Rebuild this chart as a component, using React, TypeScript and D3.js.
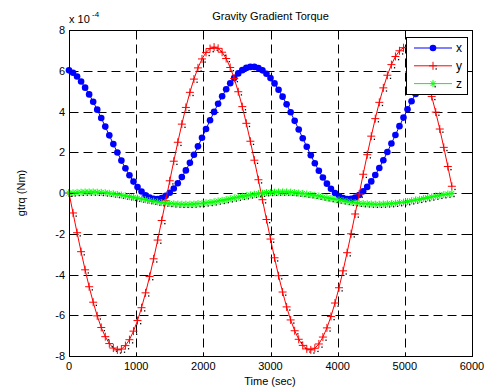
import React from "react";
import * as d3 from "d3";

const time = d3.range(0, 5760, 60);
const xSeries = [
  6.02, 5.9, 5.72, 5.47, 5.17, 4.84, 4.48, 4.09, 3.68, 3.26,
  2.83, 2.4, 1.99, 1.59, 1.21, 0.87, 0.56, 0.29, 0.07, -0.11,
  -0.22, -0.29, -0.3, -0.25, -0.14, 0.01, 0.22, 0.48, 0.78, 1.11,
  1.48, 1.88, 2.29, 2.71, 3.14, 3.57, 3.98, 4.38, 4.75, 5.09,
  5.39, 5.65, 5.87, 6.03, 6.14, 6.19, 6.19, 6.13, 6.02, 5.85,
  5.64, 5.38, 5.07, 4.73, 4.35, 3.96, 3.54, 3.12, 2.69, 2.27,
  1.85, 1.46, 1.09, 0.76, 0.46, 0.21, 0.0, -0.15, -0.25, -0.3,
  -0.29, -0.22, -0.1, 0.08, 0.3, 0.57, 0.88, 1.23, 1.61, 2.01,
  2.43, 2.85, 3.28, 3.7, 4.11, 4.5, 4.86, 5.19, 5.48, 5.73,
  5.93, 6.07, 6.16, 6.2, 6.18, 6.1,
];
const ySeries = [
  0.0, -0.98, -1.95, -2.88, -3.77, -4.6, -5.36, -6.03, -6.6, -7.05,
  -7.39, -7.61, -7.7, -7.66, -7.49, -7.2, -6.78, -6.26, -5.63, -4.9,
  -4.1, -3.23, -2.31, -1.35, -0.38, 0.6, 1.56, 2.49, 3.38, 4.2,
  4.94, 5.59, 6.14, 6.58, 6.9, 7.09, 7.16, 7.1, 6.91, 6.6,
  6.16, 5.62, 4.97, 4.24, 3.42, 2.54, 1.61, 0.65, -0.33, -1.3,
  -2.26, -3.18, -4.06, -4.86, -5.59, -6.23, -6.76, -7.18, -7.48, -7.65,
  -7.7, -7.62, -7.41, -7.07, -6.62, -6.06, -5.4, -4.65, -3.82, -2.93,
  -2.0, -1.03, -0.05, 0.92, 1.88, 2.79, 3.65, 4.45, 5.16, 5.78,
  6.3, 6.7, 6.98, 7.13, 7.15, 7.05, 6.82, 6.47, 6.0, 5.42,
  4.74, 3.97, 3.14, 2.24, 1.3, 0.33,
];
const zSeries = [
  -0.01, 0.01, 0.03, 0.04, 0.05, 0.05, 0.05, 0.04, 0.03, 0.01,
  -0.01, -0.04, -0.07, -0.1, -0.14, -0.18, -0.21, -0.25, -0.29, -0.33,
  -0.37, -0.4, -0.44, -0.47, -0.49, -0.51, -0.53, -0.54, -0.55, -0.55,
  -0.55, -0.54, -0.52, -0.51, -0.48, -0.46, -0.43, -0.39, -0.36, -0.32,
  -0.28, -0.24, -0.2, -0.16, -0.13, -0.09, -0.06, -0.03, -0.01, 0.02,
  0.03, 0.04, 0.05, 0.05, 0.05, 0.04, 0.02, 0.0, -0.02, -0.05,
  -0.08, -0.11, -0.15, -0.19, -0.23, -0.27, -0.31, -0.34, -0.38, -0.41,
  -0.45, -0.47, -0.5, -0.52, -0.53, -0.54, -0.55, -0.55, -0.54, -0.53,
  -0.52, -0.5, -0.47, -0.45, -0.42, -0.38, -0.34, -0.31, -0.27, -0.23,
  -0.19, -0.15, -0.11, -0.08, -0.05, -0.02,
];
const xTicks = [0, 1000, 2000, 3000, 4000, 5000, 6000];
const yTicks = [-8, -6, -4, -2, 0, 2, 4, 6, 8];
const seriesNames = ["x", "y", "z"];

const W = 486;
const H = 389;
const FONT = "'Liberation Sans', Arial, Helvetica, sans-serif";

const xs = d3.scaleLinear().domain([0, 6000]).range([69, 472]);
const ys = d3.scaleLinear().domain([-8, 8]).range([356, 30]);
const crisp = (v: number) => Math.round(v) + 0.5;

function Marker({ kind, cx, cy }: { kind: string; cx: number; cy: number }) {
  if (kind === "x") return <circle cx={cx} cy={cy} r={3.3} fill="#0000ff" />;
  if (kind === "y")
    return (
      <g>
        <rect x={cx + 2.5} y={cy + 2.5} width={1.3} height={1.3} fill="#000" />
        <path d={`M${cx - 4},${cy}H${cx + 4}M${cx},${cy - 4}V${cy + 4}`} stroke="#ff0000" strokeWidth={1} />
      </g>
    );
  return (
    <g>
      <rect x={cx + 1.5} y={cy + 2.5} width={1.3} height={1.3} fill="#000" />
      <path
        d={`M${cx - 3.5},${cy}H${cx + 3.5}M${cx},${cy - 3.5}V${cy + 3.5}M${cx - 2.5},${cy - 2.5}L${cx + 2.5},${cy + 2.5}M${cx - 2.5},${cy + 2.5}L${cx + 2.5},${cy - 2.5}`}
        stroke="#00ff00"
        strokeWidth={1}
      />
    </g>
  );
}

export default function App() {
  const series = [
    { name: "x", values: xSeries, color: "#0000ff" },
    { name: "y", values: ySeries, color: "#ff0000" },
    { name: "z", values: zSeries, color: "#00ff00" },
  ];
  const line = d3
    .line<number>()
    .x((_, i) => xs(time[i]))
    .y((d) => ys(d));
  const L = crisp(xs(0));
  const R = crisp(xs(6000));
  const T = crisp(ys(8));
  const B = crisp(ys(-8));

  return (
    <svg
      width={W}
      height={H}
      style={{ position: "absolute", left: 0, top: 0, background: "#fff" }}
      fontFamily={FONT}
    >
      <rect x={0} y={0} width={W} height={H} fill="#fff" />
      {/* grid */}
      {xTicks.slice(1, -1).map((t) => (
        <line key={"gx" + t} x1={crisp(xs(t))} x2={crisp(xs(t))} y1={T} y2={B} stroke="#000" strokeDasharray="9,5" />
      ))}
      {yTicks.slice(1, -1).map((t) => (
        <line key={"gy" + t} x1={L} x2={R} y1={crisp(ys(t))} y2={crisp(ys(t))} stroke="#000" strokeDasharray="9,5" />
      ))}
      {/* series */}
      {series.map((s) => (
        <g key={s.name}>
          <path d={line(s.values) || ""} fill="none" stroke={s.color} strokeWidth={1} />
          {s.values.map((v, i) => (
            <Marker key={i} kind={s.name} cx={xs(time[i])} cy={ys(v)} />
          ))}
        </g>
      ))}
      {/* box */}
      <rect x={L} y={T} width={R - L} height={B - T} fill="none" stroke="#000" />
      {xTicks.map((t) => (
        <g key={"tx" + t}>
          <line x1={crisp(xs(t))} x2={crisp(xs(t))} y1={B} y2={B - 4} stroke="#000" />
          <line x1={crisp(xs(t))} x2={crisp(xs(t))} y1={T} y2={T + 4} stroke="#000" />
          <text x={xs(t)} y={370} fontSize={11} textAnchor="middle" fill="#000">
            {t}
          </text>
        </g>
      ))}
      {yTicks.map((t) => (
        <g key={"ty" + t}>
          <line x1={L} x2={L + 4} y1={crisp(ys(t))} y2={crisp(ys(t))} stroke="#000" />
          <line x1={R} x2={R - 4} y1={crisp(ys(t))} y2={crisp(ys(t))} stroke="#000" />
          <text x={65} y={ys(t) + 4} fontSize={11} textAnchor="end" fill="#000">
            {t}
          </text>
        </g>
      ))}
      {/* exponent */}
      <text x={69} y={23} fontSize={11} fill="#000">
        x 10
      </text>
      <text x={92} y={17} fontSize={8} fill="#000">
        -4
      </text>
      {/* title & labels */}
      <text x={270.5} y={20} fontSize={11} textAnchor="middle" fill="#000">
        Gravity Gradient Torque
      </text>
      <text x={270} y={385} fontSize={11} textAnchor="middle" fill="#000">
        Time (sec)
      </text>
      <text transform={`translate(25,193) rotate(-90)`} fontSize={11} textAnchor="middle" fill="#000">
        gtrq (Nm)
      </text>
      {/* legend */}
      <rect x={406.5} y={37.5} width={61} height={57} fill="#fff" stroke="#000" />
      {series.map((s, i) => {
        const cy = 48 + i * 17.8;
        return (
          <g key={"lg" + s.name}>
            <line x1={414} x2={452} y1={cy} y2={cy} stroke={s.color} />
            <Marker kind={s.name} cx={433} cy={cy} />
            <text x={456} y={cy + 4} fontSize={12} fill="#000">
              {seriesNames[i]}
            </text>
          </g>
        );
      })}
    </svg>
  );
}
